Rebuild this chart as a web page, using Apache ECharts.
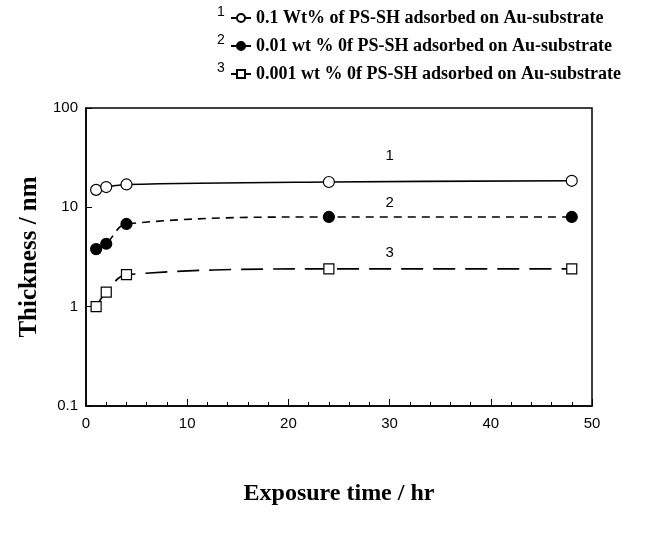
<!DOCTYPE html>
<html>
<head>
<meta charset="utf-8">
<script src="https://cdn.jsdelivr.net/npm/echarts@6/dist/echarts.min.js"></script>
<style>html,body{margin:0;padding:0;background:#fff}#c{width:652px;height:535px}</style>
</head>
<body>
<div id="c"></div>
<script>
// Data
const times = [1, 2, 4, 24, 48];
const s1 = [15, 16, 17, 18, 18.5];     // 0.1 wt%
const s2 = [3.8, 4.3, 6.8, 8, 8];      // 0.01 wt%
const s3 = [1.0, 1.4, 2.1, 2.4, 2.4];  // 0.001 wt%
const names = [
  '0.1 Wt% of PS-SH adsorbed on Au-substrate',
  '0.01 wt % 0f PS-SH adsorbed on Au-substrate',
  '0.001 wt % 0f PS-SH adsorbed on Au-substrate'
];
const curveLabels = ['1', '2', '3'];
const curveLabelPos = [[30, 33], [30, 11], [30, 3.5]];
const xTicks = [0, 10, 20, 30, 40, 50];
const yTicks = [0.1, 1, 10, 100];

const pair = (xs, ys) => xs.map((x, i) => [x, ys[i]]);
const chart = echarts.init(document.getElementById('c'));
const serifBold = {fontFamily: 'Liberation Serif', fontWeight: 'bold', color: '#000'};
const mk = (i, data, symbol, filled, dash) => ({
  name: names[i],
  type: 'line',
  data: pair(times, data),
  smooth: 0.35,
  symbol: symbol,
  symbolSize: symbol === 'rect' ? 10 : 11,
  showSymbol: true,
  itemStyle: {color: filled ? '#000' : '#fff', borderColor: '#000', borderWidth: 1.2},
  lineStyle: {color: '#000', width: 1.6, type: dash},
  markPoint: {
    symbol: 'circle', symbolSize: 0,
    data: [{coord: curveLabelPos[i], value: curveLabels[i]}],
    label: {show: true, formatter: curveLabels[i], color: '#000', fontFamily: 'Liberation Sans', fontSize: 15}
  },
  z: 3
});
chart.setOption({
  animation: false,
  backgroundColor: '#fff',
  legend: {
    orient: 'vertical', left: 225, top: 4, itemGap: 10,
    itemWidth: 20, itemHeight: 10,
    textStyle: Object.assign({fontSize: 18}, serifBold),
    data: names
  },
  graphic: curveLabels.map((t, i) => ({
    type: 'text', left: 217, top: 5 + i * 28,
    style: {text: t, font: '14px "Liberation Sans"', fill: '#000'}
  })),
  grid: {left: 86, right: 60, top: 108, bottom: 129, show: true, borderColor: '#000', borderWidth: 1.5, backgroundColor: 'transparent'},
  xAxis: {
    type: 'value', min: 0, max: 50, interval: 10,
    name: 'Exposure time / hr', nameLocation: 'middle', nameGap: 76,
    nameTextStyle: Object.assign({fontSize: 24}, serifBold),
    axisLine: {lineStyle: {color: '#000', width: 1.5}},
    axisTick: {inside: true, length: 7, lineStyle: {color: '#000'}},
    minorTick: {show: true, splitNumber: 5, length: 4, lineStyle: {color: '#000'}},
    axisLabel: {color: '#000', fontFamily: 'Liberation Sans', fontSize: 15, margin: 10,
      formatter: v => xTicks.includes(v) ? String(v) : ''},
    splitLine: {show: false}
  },
  yAxis: {
    type: 'log', logBase: 10, min: 0.1, max: 100,
    name: 'Thickness / nm', nameLocation: 'middle', nameGap: 43,
    nameTextStyle: Object.assign({fontSize: 25}, serifBold),
    axisLine: {lineStyle: {color: '#000', width: 1.5}},
    axisTick: {inside: true, length: 6, lineStyle: {color: '#000'}},
    axisLabel: {color: '#000', fontFamily: 'Liberation Sans', fontSize: 15, margin: 8,
      formatter: v => { const m = yTicks.find(t => Math.abs(t - v) / t < 1e-6); return m !== undefined ? String(m) : ''; }},
    splitLine: {show: false}
  },
  series: [
    mk(0, s1, 'circle', false, 'solid'),
    mk(1, s2, 'circle', true, [8, 6]),
    mk(2, s3, 'rect', false, [22, 10])
  ]
});
</script>
</body>
</html>
